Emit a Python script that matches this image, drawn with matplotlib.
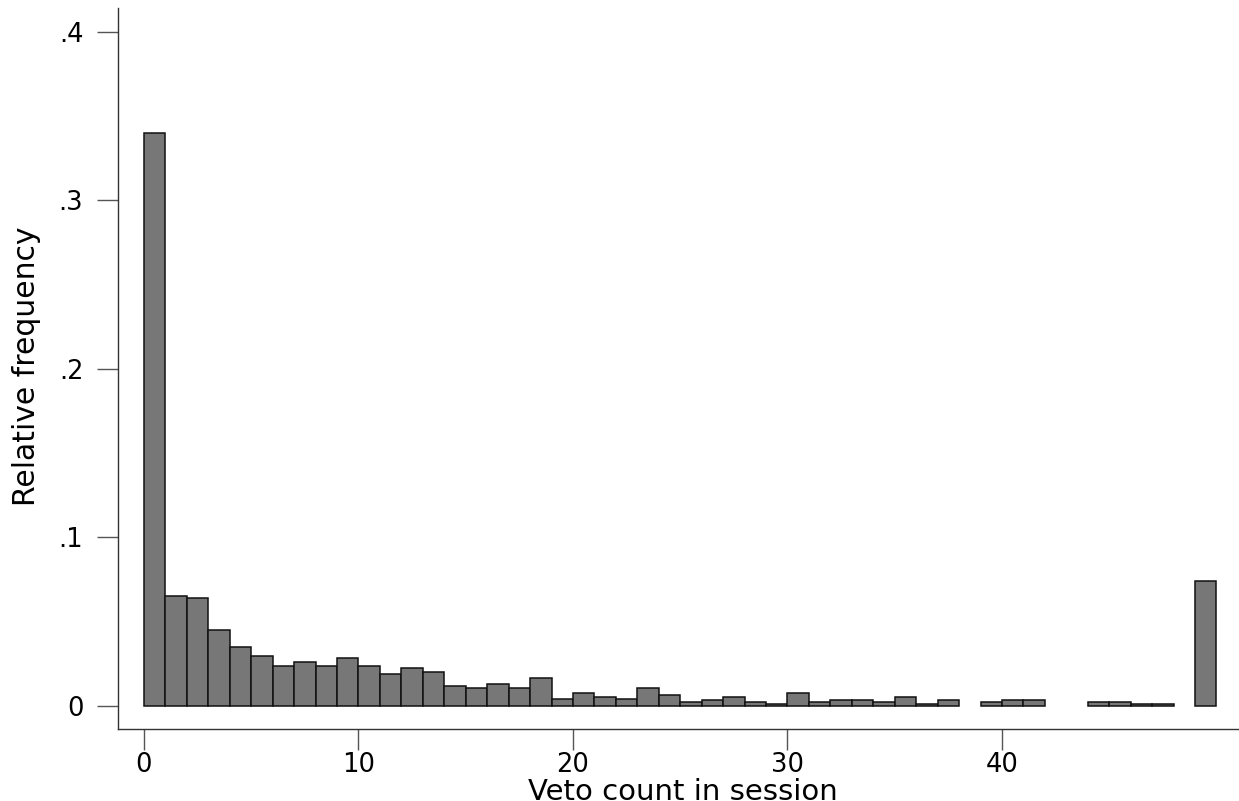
import matplotlib
matplotlib.use("Agg")
import matplotlib.pyplot as plt
import numpy as np

# Data: relative frequency of veto counts (bins of width 1 starting at each value)
bin_starts = list(range(0, 50))
rel_freq = [
    0.340, 0.0655, 0.0641, 0.0451, 0.0352, 0.0299, 0.0237, 0.0263, 0.0237, 0.0287,
    0.0237, 0.0188, 0.0226, 0.0200, 0.0117, 0.0104, 0.0129, 0.0104, 0.0163, 0.0040,
    0.0075, 0.0051, 0.0040, 0.0104, 0.0063, 0.0026, 0.0038, 0.0050, 0.0024, 0.0012,
    0.0074, 0.0024, 0.0038, 0.0038, 0.0024, 0.0050, 0.0012, 0.0038, 0.0, 0.0024,
    0.0038, 0.0038, 0.0, 0.0, 0.0024, 0.0024, 0.0012, 0.0012, 0.0, 0.0742,
]
x_ticks = [0, 10, 20, 30, 40]
y_ticks = [0, 0.1, 0.2, 0.3, 0.4]
y_tick_labels = ["0", ".1", ".2", ".3", ".4"]
x_label = "Veto count in session"
y_label = "Relative frequency"

plt.rcParams['font.family'] = ['DejaVu Sans']

W, H = 1239, 801
ax_left, ax_top, ax_bottom = 118, 8.3, 729
fig = plt.figure(figsize=(W / 100, H / 100), dpi=100)
ax = fig.add_axes([ax_left / W, 1 - ax_bottom / H, 1 - ax_left / W, (ax_bottom - ax_top) / H])

xs = [b for b, v in zip(bin_starts, rel_freq) if v > 0]
hs = [v for v in rel_freq if v > 0]
ax.bar(xs, hs, width=1.0, align='edge', color='#777777', edgecolor='#111111', linewidth=1.1)

ax.set_xlim(-1.21, 51.05)
ax.set_ylim(-0.0137, 0.414)

for s in ['top', 'right']:
    ax.spines[s].set_visible(False)
for s in ['left', 'bottom']:
    ax.spines[s].set_color('#333333')
    ax.spines[s].set_linewidth(1.0)

ax.set_xticks(x_ticks)
ax.set_xticklabels([str(t) for t in x_ticks])
ax.set_yticks(y_ticks)
ax.set_yticklabels(y_tick_labels)
ax.tick_params(axis='both', direction='out', length=15, width=1.0, color='#555555',
               labelsize=18.5, labelcolor='black')
ax.tick_params(axis='x', pad=1.5)
ax.tick_params(axis='y', pad=10)

ax.set_xlabel(x_label, fontsize=21)
ax.set_ylabel(y_label, fontsize=21.5)
ax.xaxis.set_label_coords(0.504, -0.0675)
ax.yaxis.set_label_coords(-0.069, 0.504)

fig.savefig("out.png", dpi=100)
